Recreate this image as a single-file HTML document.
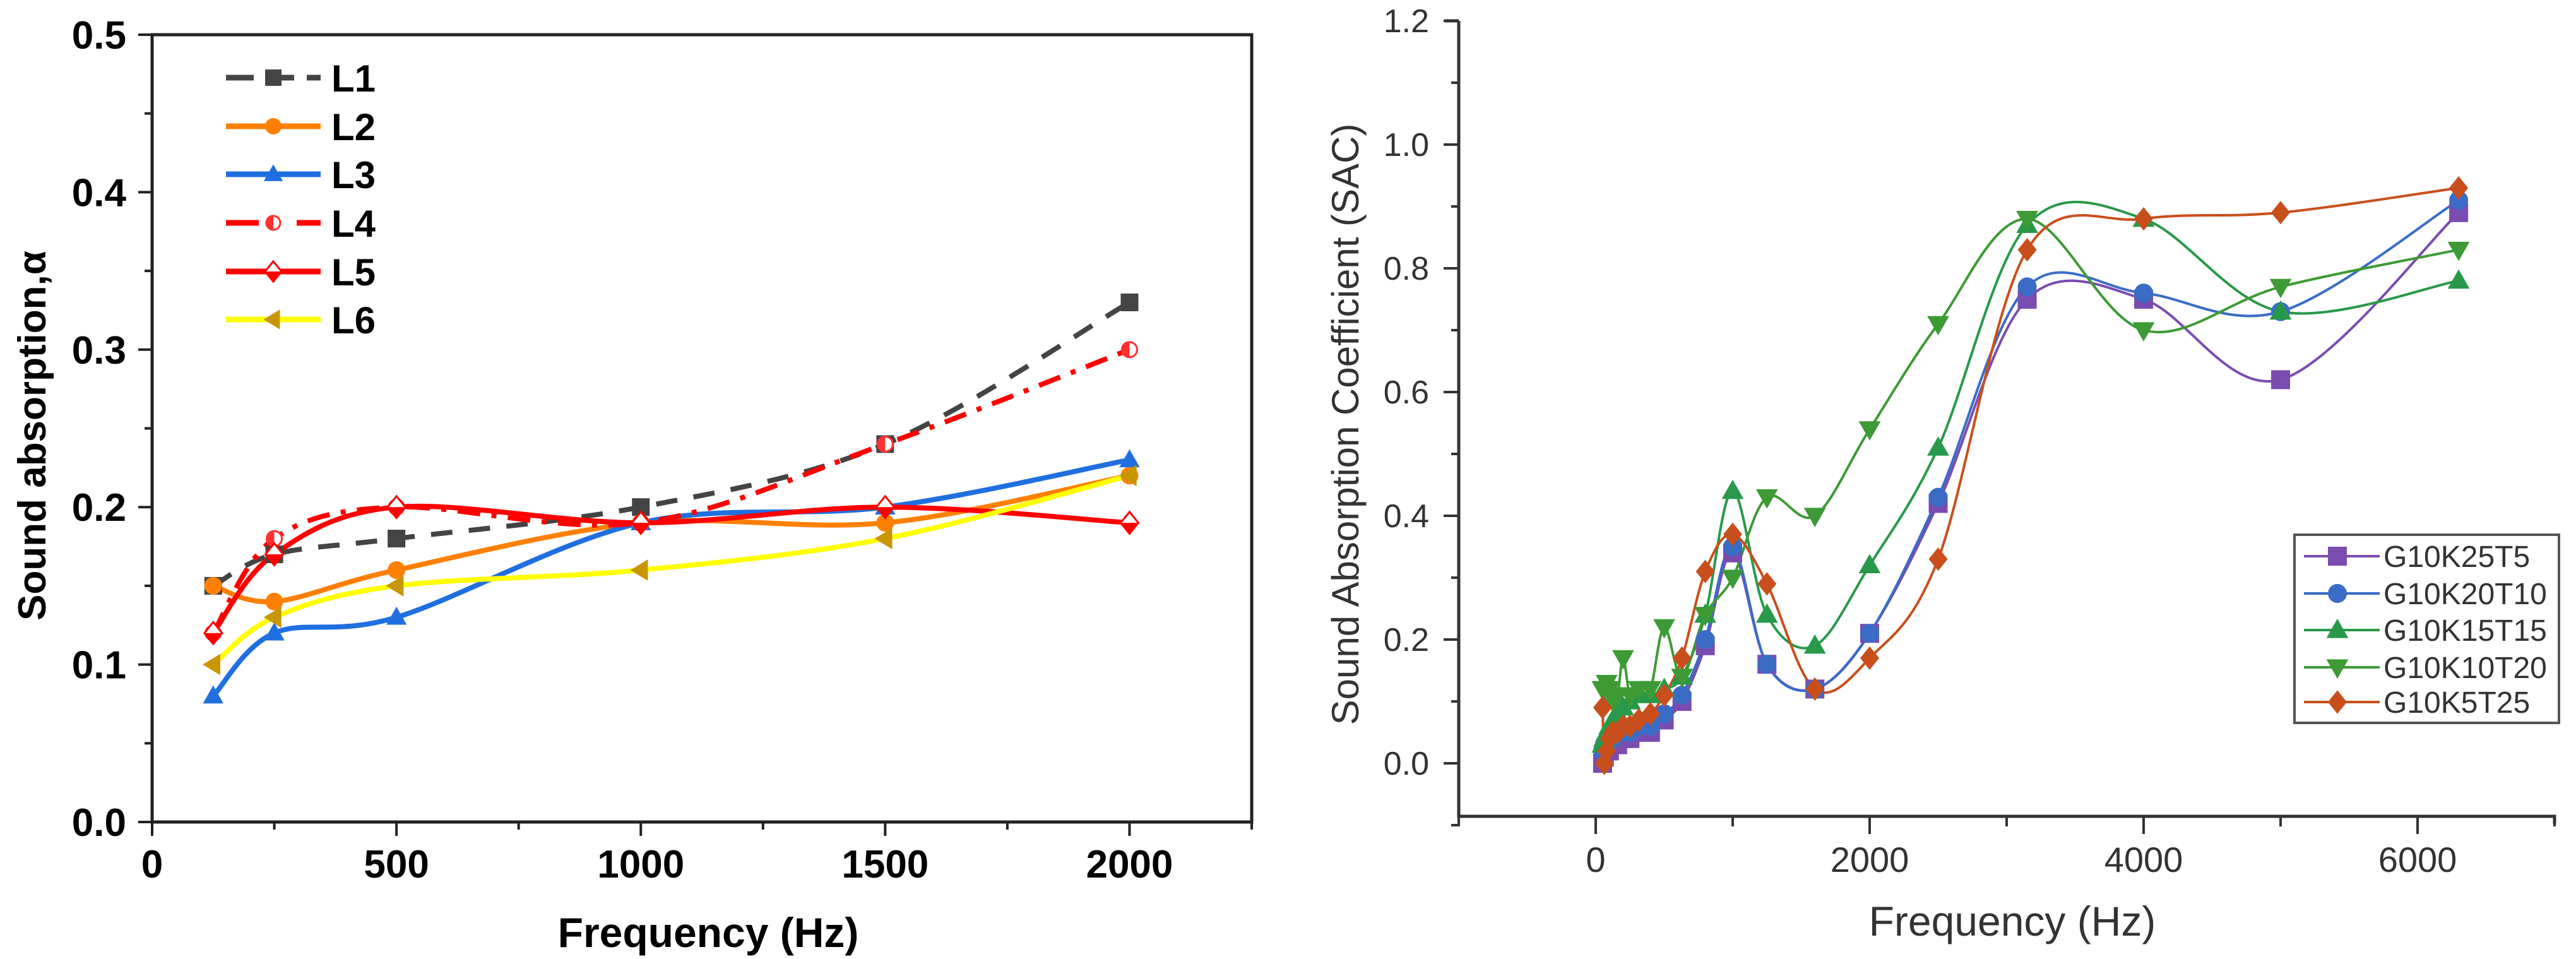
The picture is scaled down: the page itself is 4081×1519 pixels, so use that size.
<!DOCTYPE html>
<html><head><meta charset="utf-8"><style>
html,body{margin:0;padding:0;background:#fff;}
svg{display:block;}
</style></head><body>
<svg id="root" width="4081" height="1519" viewBox="0 0 4081 1519" xmlns="http://www.w3.org/2000/svg">
<g id="left"></g>
<g id="right"></g>
</svg>
<script>
// ---------- Left chart data ----------
const leftFreqs = [125, 250, 500, 1000, 1500, 2000];
const L1 = [0.15, 0.17, 0.18, 0.20, 0.24, 0.33];
const L2 = [0.15, 0.14, 0.16, 0.19, 0.19, 0.22];
const L3 = [0.08, 0.12, 0.13, 0.19, 0.20, 0.23];
const L4 = [0.12, 0.18, 0.20, 0.19, 0.24, 0.30];
const L5 = [0.12, 0.17, 0.20, 0.19, 0.20, 0.19];
const L6 = [0.10, 0.13, 0.15, 0.16, 0.18, 0.22];
const leftXTicks = [0, 500, 1000, 1500, 2000];
const leftYTicks = ["0.0", "0.1", "0.2", "0.3", "0.4", "0.5"];
const leftNames = ["L1", "L2", "L3", "L4", "L5", "L6"];

// ---------- Right chart data ----------
const rightFreqs = [50, 63, 80, 100, 125, 160, 200, 250, 315, 400, 500, 630, 800, 1000, 1250, 1600, 2000, 2500, 3150, 4000, 5000, 6300];
const K25T5  = [0.00, 0.01, 0.02, 0.02, 0.03, 0.03, 0.04, 0.04, 0.05, 0.05, 0.07, 0.10, 0.19, 0.34, 0.16, 0.12, 0.21, 0.42, 0.75, 0.75, 0.62, 0.89];
const K20T10 = [0.02, 0.03, 0.03, 0.04, 0.04, 0.05, 0.05, 0.05, 0.06, 0.06, 0.08, 0.11, 0.20, 0.35, 0.16, 0.12, 0.21, 0.43, 0.77, 0.76, 0.73, 0.91];
const K15T15 = [0.03, 0.04, 0.05, 0.06, 0.07, 0.08, 0.09, 0.10, 0.11, 0.11, 0.12, 0.14, 0.24, 0.44, 0.24, 0.19, 0.32, 0.51, 0.87, 0.88, 0.73, 0.78];
const K10T20 = [0.12, 0.12, 0.13, 0.12, 0.10, 0.11, 0.17, 0.11, 0.12, 0.12, 0.22, 0.14, 0.24, 0.30, 0.43, 0.40, 0.54, 0.71, 0.88, 0.70, 0.77, 0.83];
const K5T25  = [0.09, 0.00, 0.02, 0.04, 0.05, 0.05, 0.06, 0.06, 0.07, 0.08, 0.11, 0.17, 0.31, 0.37, 0.29, 0.12, 0.17, 0.33, 0.83, 0.88, 0.89, 0.93];
const rightXTicks = [0, 2000, 4000, 6000];
const rightYTicks = ["0.0", "0.2", "0.4", "0.6", "0.8", "1.0", "1.2"];
const rightNames = ["G10K25T5", "G10K20T10", "G10K15T15", "G10K10T20", "G10K5T25"];

const NS = "http://www.w3.org/2000/svg";
function mk(parent, tag, attrs, text) {
  const e = document.createElementNS(NS, tag);
  for (const k in attrs) e.setAttribute(k, attrs[k]);
  if (text !== undefined) e.textContent = text;
  parent.appendChild(e);
  return e;
}
function spline(pts) {
  if (pts.length < 2) return "";
  let d = "M" + pts[0][0] + "," + pts[0][1];
  for (let i = 0; i < pts.length - 1; i++) {
    const p0 = pts[i - 1] || pts[i], p1 = pts[i], p2 = pts[i + 1], p3 = pts[i + 2] || p2;
    const c1x = p1[0] + (p2[0] - p0[0]) / 6, c1y = p1[1] + (p2[1] - p0[1]) / 6;
    const c2x = p2[0] - (p3[0] - p1[0]) / 6, c2y = p2[1] - (p3[1] - p1[1]) / 6;
    d += " C" + c1x + "," + c1y + " " + c2x + "," + c2y + " " + p2[0] + "," + p2[1];
  }
  return d;
}
function marker(g, type, x, y, s, fill, stroke) {
  let e;
  if (type === "square") e = mk(g, "rect", {x: x - s/2, y: y - s/2, width: s, height: s, fill: fill});
  else if (type === "circle") e = mk(g, "circle", {cx: x, cy: y, r: s/2, fill: fill});
  else if (type === "up") e = mk(g, "polygon", {points: `${x},${y - s*0.6} ${x - s*0.58},${y + s*0.42} ${x + s*0.58},${y + s*0.42}`, fill: fill});
  else if (type === "down") e = mk(g, "polygon", {points: `${x},${y + s*0.6} ${x - s*0.58},${y - s*0.42} ${x + s*0.58},${y - s*0.42}`, fill: fill});
  else if (type === "diamond") e = mk(g, "polygon", {points: `${x},${y - s*0.62} ${x + s*0.5},${y} ${x},${y + s*0.62} ${x - s*0.5},${y}`, fill: fill});
  else if (type === "left") e = mk(g, "polygon", {points: `${x - s*0.6},${y} ${x + s*0.4},${y - s*0.6} ${x + s*0.4},${y + s*0.6}`, fill: fill});
  else if (type === "halfcircle") {
    e = mk(g, "g", {});
    mk(e, "circle", {cx: x, cy: y, r: s/2 - 2, fill: "#fff", stroke: stroke, "stroke-width": 3});
    mk(e, "path", {d: `M${x},${y - s/2 + 2} A${s/2 - 2},${s/2 - 2} 0 0 0 ${x},${y + s/2 - 2} Z`, fill: stroke});
  } else if (type === "diamondOpen") {
    e = mk(g, "g", {});
    mk(e, "polygon", {points: `${x},${y - s*0.62} ${x + s*0.5},${y} ${x},${y + s*0.62} ${x - s*0.5},${y}`, fill: "#fff", stroke: stroke, "stroke-width": 3});
    mk(e, "polygon", {points: `${x - s*0.5},${y} ${x + s*0.5},${y} ${x},${y + s*0.62}`, fill: stroke});
  }
  return e;
}

// ================= LEFT =================
(function () {
  const g = document.getElementById("left");
  const X0 = 241, X1 = 1983, Y0 = 1302, Y1 = 55;
  const xs = f => X0 + (f - 0) / 2250 * (X1 - X0);
  const ys = v => Y0 - v / 0.5 * (Y0 - Y1);
  const font = '"Liberation Sans", Arial, sans-serif';
  const frame = mk(g, "rect", {x: X0, y: Y1, width: X1 - X0, height: Y0 - Y1, fill: "none", stroke: "#222", "stroke-width": 5});
  
  
  // x ticks
  for (let f = 0; f <= 2250; f += 250) {
    const major = f % 500 === 0;
    const t = mk(g, "line", {x1: xs(f), x2: xs(f), y1: Y0, y2: Y0 + (major ? 22 : 12), stroke: "#222", "stroke-width": 4});
    
    
  }
  leftXTicks.forEach(f => {
    const t = mk(g, "text", {x: xs(f), y: 1390, "font-family": font, "font-weight": "bold", "font-size": 62, "text-anchor": "middle", fill: "#000"}, String(f));
    
    
  });
  for (let i = 0; i <= 10; i++) {
    const v = i * 0.05;
    const major = i % 2 === 0;
    const t = mk(g, "line", {x1: X0 - (major ? 22 : 12), x2: X0, y1: ys(v), y2: ys(v), stroke: "#222", "stroke-width": 4});
    
    
  }
  leftYTicks.forEach(s => {
    const t = mk(g, "text", {x: 200, y: ys(parseFloat(s)) + 22, "font-family": font, "font-weight": "bold", "font-size": 62, "text-anchor": "end", fill: "#000"}, s);
    
    
  });
  const xt = mk(g, "text", {x: 1122, y: 1500, "font-family": font, "font-weight": "bold", "font-size": 66, "text-anchor": "middle", fill: "#000"}, "Frequency (Hz)");
  
  
  const yt = mk(g, "text", {x: 0, y: 0, transform: "translate(72,690) rotate(-90)", "font-family": font, "font-weight": "bold", "font-size": 62, "text-anchor": "middle", fill: "#000"}, "Sound absorption,α");
  
  

  const series = [
    {vals: L1, color: "#444", dash: "34,26", m: "square", mfill: "#444"},
    {vals: L2, color: "#ff8000", dash: "", m: "circle", mfill: "#ff8000"},
    {vals: L3, color: "#1f6fe0", dash: "", m: "up", mfill: "#1f6fe0"},
    {vals: L4, color: "#ff0000", dash: "36,18,8,18", m: "halfcircle", mfill: "#ff3030"},
    {vals: L5, color: "#ff0000", dash: "", m: "diamondOpen", mfill: "#ff0000"},
    {vals: L6, color: "#ffff00", dash: "", m: "left", mfill: "#c89600"}
  ];
  series.forEach((s, i) => {
    const pts = leftFreqs.map((f, j) => [xs(f), ys(s.vals[j])]);
    const p = mk(g, "path", {d: spline(pts), fill: "none", stroke: s.color, "stroke-width": 8, "stroke-dasharray": s.dash});
    
    
  });
  series.forEach((s, i) => {
    leftFreqs.forEach((f, j) => {
      const m = marker(g, s.m, xs(f), ys(s.vals[j]), 28, s.mfill, s.mfill);
      
      
    });
  });
  // legend
  const lg = mk(g, "g", {});
  
  
  const rows = [123, 200, 276, 353, 430, 506];
  series.forEach((s, i) => {
    const y = rows[i];
    const e = mk(lg, "g", {});
    
    
    mk(e, "line", {x1: 358, x2: 508, y1: y, y2: y, stroke: s.color, "stroke-width": 9, "stroke-dasharray": i === 0 ? "44,20" : (i === 3 ? "52,60" : "")});
    marker(e, s.m, 433, y, 26, s.mfill, s.mfill);
    mk(e, "text", {x: 525, y: y + 22, "font-family": font, "font-weight": "bold", "font-size": 60, fill: "#000"}, leftNames[i]);
  });
})();

// ================= RIGHT =================
(function () {
  const g = document.getElementById("right");
  const XL = 2311, XR = 4047, YB = 1293, YT = 33;
  const xs = f => XL + (f + 1000) / 8000 * (XR - XL);
  const Yzero = 1209, per = 196 / 0.2;
  const ys = v => Yzero - v * per;
  const font = '"Liberation Sans", Arial, sans-serif';
  const ax = mk(g, "path", {d: `M${XL},${YT} L${XL},${YB} L${XR},${YB} L${XR},${YB + 12}`, fill: "none", stroke: "#333", "stroke-width": 5});
  
  
  mk(g, "line", {x1: XL - 22, x2: XL, y1: YT, y2: YT, stroke: "#333", "stroke-width": 5});
  for (let f = -1000; f <= 7000; f += 1000) {
    const major = f % 2000 === 0;
    const t = mk(g, "line", {x1: xs(f), x2: xs(f), y1: YB, y2: YB + (major ? 28 : 16), stroke: "#333", "stroke-width": 4});
    
    
  }
  rightXTicks.forEach(f => {
    const t = mk(g, "text", {x: xs(f), y: 1381, "font-family": font, "font-size": 56, "text-anchor": "middle", fill: "#333"}, String(f));
    
    
  });
  for (let i = -1; i <= 12; i++) {
    const v = i * 0.1;
    const major = i % 2 === 0;
    const t = mk(g, "line", {x1: XL - (major ? 24 : 12), x2: XL, y1: ys(v), y2: ys(v), stroke: "#333", "stroke-width": 4});
    
    
  }
  rightYTicks.forEach(s => {
    const t = mk(g, "text", {x: 2264, y: ys(parseFloat(s)) + 18, "font-family": font, "font-size": 52, "text-anchor": "end", fill: "#333"}, s);
    
    
  });
  const xt = mk(g, "text", {x: 3188, y: 1482, "font-family": font, "font-size": 66, "text-anchor": "middle", fill: "#333"}, "Frequency (Hz)");
  
  
  const yt = mk(g, "text", {x: 0, y: 0, transform: "translate(2152,672) rotate(-90)", "font-family": font, "font-size": 60, "text-anchor": "middle", fill: "#333"}, "Sound Absorption Coefficient (SAC)");
  
  

  const series = [
    {vals: K25T5, color: "#7a4cb0", m: "square"},
    {vals: K20T10, color: "#3a6cc6", m: "circle"},
    {vals: K15T15, color: "#28994a", m: "up"},
    {vals: K10T20, color: "#3d9a35", m: "down"},
    {vals: K5T25, color: "#c84f1c", m: "diamond"}
  ];
  series.forEach((s, i) => {
    const pts = rightFreqs.map((f, j) => [xs(f), ys(s.vals[j])]);
    const p = mk(g, "path", {d: spline(pts), fill: "none", stroke: s.color, "stroke-width": 4});
    
    
  });
  series.forEach((s, i) => {
    rightFreqs.forEach((f, j) => {
      const m = marker(g, s.m, xs(f), ys(s.vals[j]), 30, s.color, s.color);
      
      
    });
  });
  const lg = mk(g, "g", {});
  
  
  mk(lg, "rect", {x: 3635, y: 847, width: 419, height: 298, fill: "#fff", stroke: "#555", "stroke-width": 4});
  const rows = [881, 940, 998, 1057, 1112];
  series.forEach((s, i) => {
    const y = rows[i];
    const e = mk(lg, "g", {});
    
    
    mk(e, "line", {x1: 3650, x2: 3770, y1: y, y2: y, stroke: s.color, "stroke-width": 4});
    marker(e, s.m, 3703, y, 30, s.color, s.color);
    mk(e, "text", {x: 3776, y: y + 17, "font-family": font, "font-size": 48, fill: "#333"}, rightNames[i]);
  });
})();
</script>
</body></html>
